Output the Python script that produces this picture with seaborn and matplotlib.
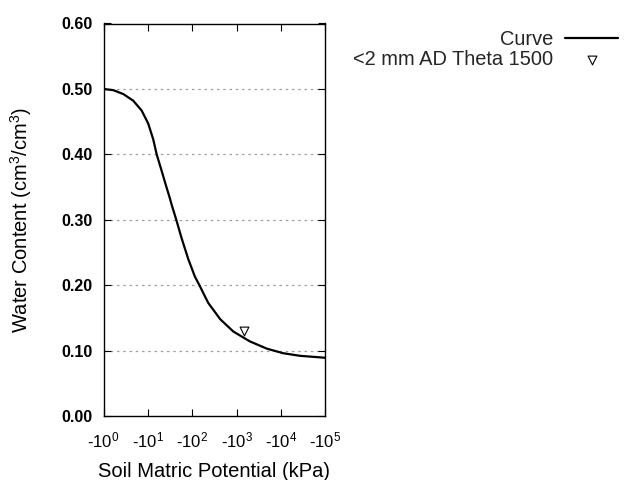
import matplotlib
matplotlib.use("Agg")
import matplotlib.pyplot as plt
import seaborn as sns
import pandas as pd
from matplotlib.ticker import NullLocator

# Data (potential as magnitude in kPa)
potential = [1, 1.68, 2.82, 4.68, 7.24, 10.2, 13.2, 15.8, 20.4, 25.7, 31.6, 34.7,
             43.7, 57.5, 81.3, 115, 145, 229, 427, 708, 851, 2000, 4790, 11200,
             26900, 100000]
water = [0.500, 0.498, 0.492, 0.482, 0.467, 0.447, 0.423, 0.400, 0.375, 0.352,
         0.332, 0.322, 0.300, 0.272, 0.240, 0.213, 0.200, 0.173, 0.148, 0.134,
         0.129, 0.114, 0.103, 0.096, 0.092, 0.089]
obs_potential = [1500]
obs_water = [0.130]
x_ticks = [1, 10, 100, 1000, 10000, 100000]
x_tick_labels = ["-10$^{0}$", "-10$^{1}$", "-10$^{2}$", "-10$^{3}$", "-10$^{4}$", "-10$^{5}$"]
y_ticks = [0.0, 0.1, 0.2, 0.3, 0.4, 0.5, 0.6]
y_tick_labels = ["0.00", "0.10", "0.20", "0.30", "0.40", "0.50", "0.60"]

sns.set_theme(style="white")
plt.rcParams["font.family"] = ["Liberation Sans", "DejaVu Sans"]
plt.rcParams["mathtext.fontset"] = "custom"
plt.rcParams["mathtext.rm"] = "Liberation Sans"
plt.rcParams["mathtext.it"] = "Liberation Sans:italic"
plt.rcParams["mathtext.bf"] = "Liberation Sans:bold"

curve_df = pd.DataFrame({"potential": potential, "water": water})
obs_df = pd.DataFrame({"potential": obs_potential, "water": obs_water})

fig = plt.figure(figsize=(6.4, 4.8), dpi=100)
ax = fig.add_axes([103.5 / 640, 1 - 416 / 480, (325.3 - 103.5) / 640, (416 - 23.5) / 480])

sns.lineplot(data=curve_df, x="potential", y="water", ax=ax, color="black",
             linewidth=1.6, sort=False, estimator=None, label="Curve")
sns.scatterplot(data=obs_df, x="potential", y="water", ax=ax, marker="v",
                s=40, facecolor="white", edgecolor="black", linewidth=0.8,
                label="<2 mm AD Theta 1500", zorder=5)

ax.set_xscale("log")
ax.set_xlim(1, 100000)
ax.set_ylim(0, 0.6)
ax.set_xticks(x_ticks)
ax.set_xticklabels(x_tick_labels, fontsize=12)
ax.xaxis.set_minor_locator(NullLocator())
ax.set_yticks(y_ticks)
ax.set_yticklabels(y_tick_labels, fontsize=11.5, fontweight="bold")

for yv in y_ticks[1:-1]:
    ax.axhline(yv, color="#a0a0a0", linewidth=0.9, linestyle=(0, (2, 3)), zorder=0)

ax.tick_params(axis="both", which="major", direction="in", length=5, width=0.8,
               top=True, right=True, bottom=True, left=True, color="black",
               labelcolor="black")
ax.tick_params(axis="x", pad=10.5)
ax.tick_params(axis="y", pad=7.8)
for s in ax.spines.values():
    s.set_color("black")
    s.set_linewidth(1.0)

ax.set_xlabel("Soil Matric Potential (kPa)", fontsize=14.5, labelpad=8, color="black")
ax.set_ylabel("Water Content (cm$^{3}$/cm$^{3}$)", fontsize=14.5, labelpad=20, color="black")

handles, labels = ax.get_legend_handles_labels()
if ax.legend_:
    ax.legend_.remove()
fig.legend(handles, labels, loc="upper right", bbox_to_anchor=(618 / 640, 1 - 30 / 480),
           frameon=False, markerfirst=False, fontsize=14.4, borderpad=0,
           labelspacing=0.05, handlelength=2.65, handletextpad=0.6, borderaxespad=0)

fig.savefig("out.png", dpi=100)
